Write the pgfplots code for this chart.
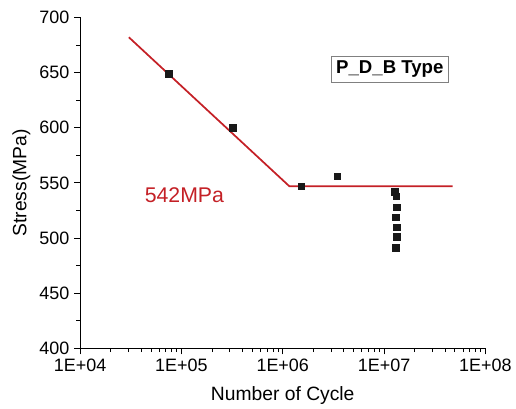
\documentclass[border={6pt 0pt 0pt 5pt}]{standalone}
\usepackage{pgfplots}
\pgfplotsset{compat=1.18}
\usepackage{fontspec}
\setmainfont{Liberation Sans}
\definecolor{snred}{RGB}{196,32,38}
\begin{document}
\begin{tikzpicture}
\begin{axis}[
    scale only axis,
    width=305pt, height=249pt,
    xmode=log,
    xmin=1e4, xmax=1e8,
    ymin=400, ymax=700,
    axis x line=bottom, axis y line=left,
    axis line style={-, black, line width=0.6pt},
    tick align=outside,
    tick style={black, line width=0.6pt},
    major tick length=4.5pt, minor tick length=2.8pt,
    xtick={1e4,1e5,1e6,1e7,1e8},
    xticklabels={1E+04,1E+05,1E+06,1E+07,1E+08},
    ytick={400,450,...,700},
    minor ytick={425,475,...,675},
    /pgf/number format/assume math mode=true,
    ticklabel style={font=\fontsize{13.5}{15}\selectfont},
    label style={font=\fontsize{14.5}{17}\selectfont},
    xlabel={Number of Cycle},
    ylabel={Stress(MPa)},
    xlabel style={yshift=-4pt},
    clip=false,
]
% S-N fit line
\addplot[snred, line width=1.3pt, no marks] coordinates {
    (3.03e4,682) (1.16e6,547) (4.74e7,547)
};
% test points
\addplot[only marks, mark=square*, mark size=2.4pt, black!90] coordinates {
    (7.5e4,649) (3.2e5,600) (1.52e6,547) (3.44e6,556)
    (1.28e7,542) (1.32e7,538) (1.33e7,528) (1.31e7,519)
    (1.33e7,510) (1.33e7,501) (1.31e7,491)
};
\node[text=snred, font=\fontsize{16}{18}\selectfont] at (axis cs:1.07e5,539) {542MPa};
\node[draw=gray, line width=0.6pt, inner sep=3.5pt, font=\fontsize{14}{16}\selectfont\bfseries] at (axis cs:1.14e7,653) {P\_D\_B Type};
\end{axis}
\end{tikzpicture}
\end{document}
